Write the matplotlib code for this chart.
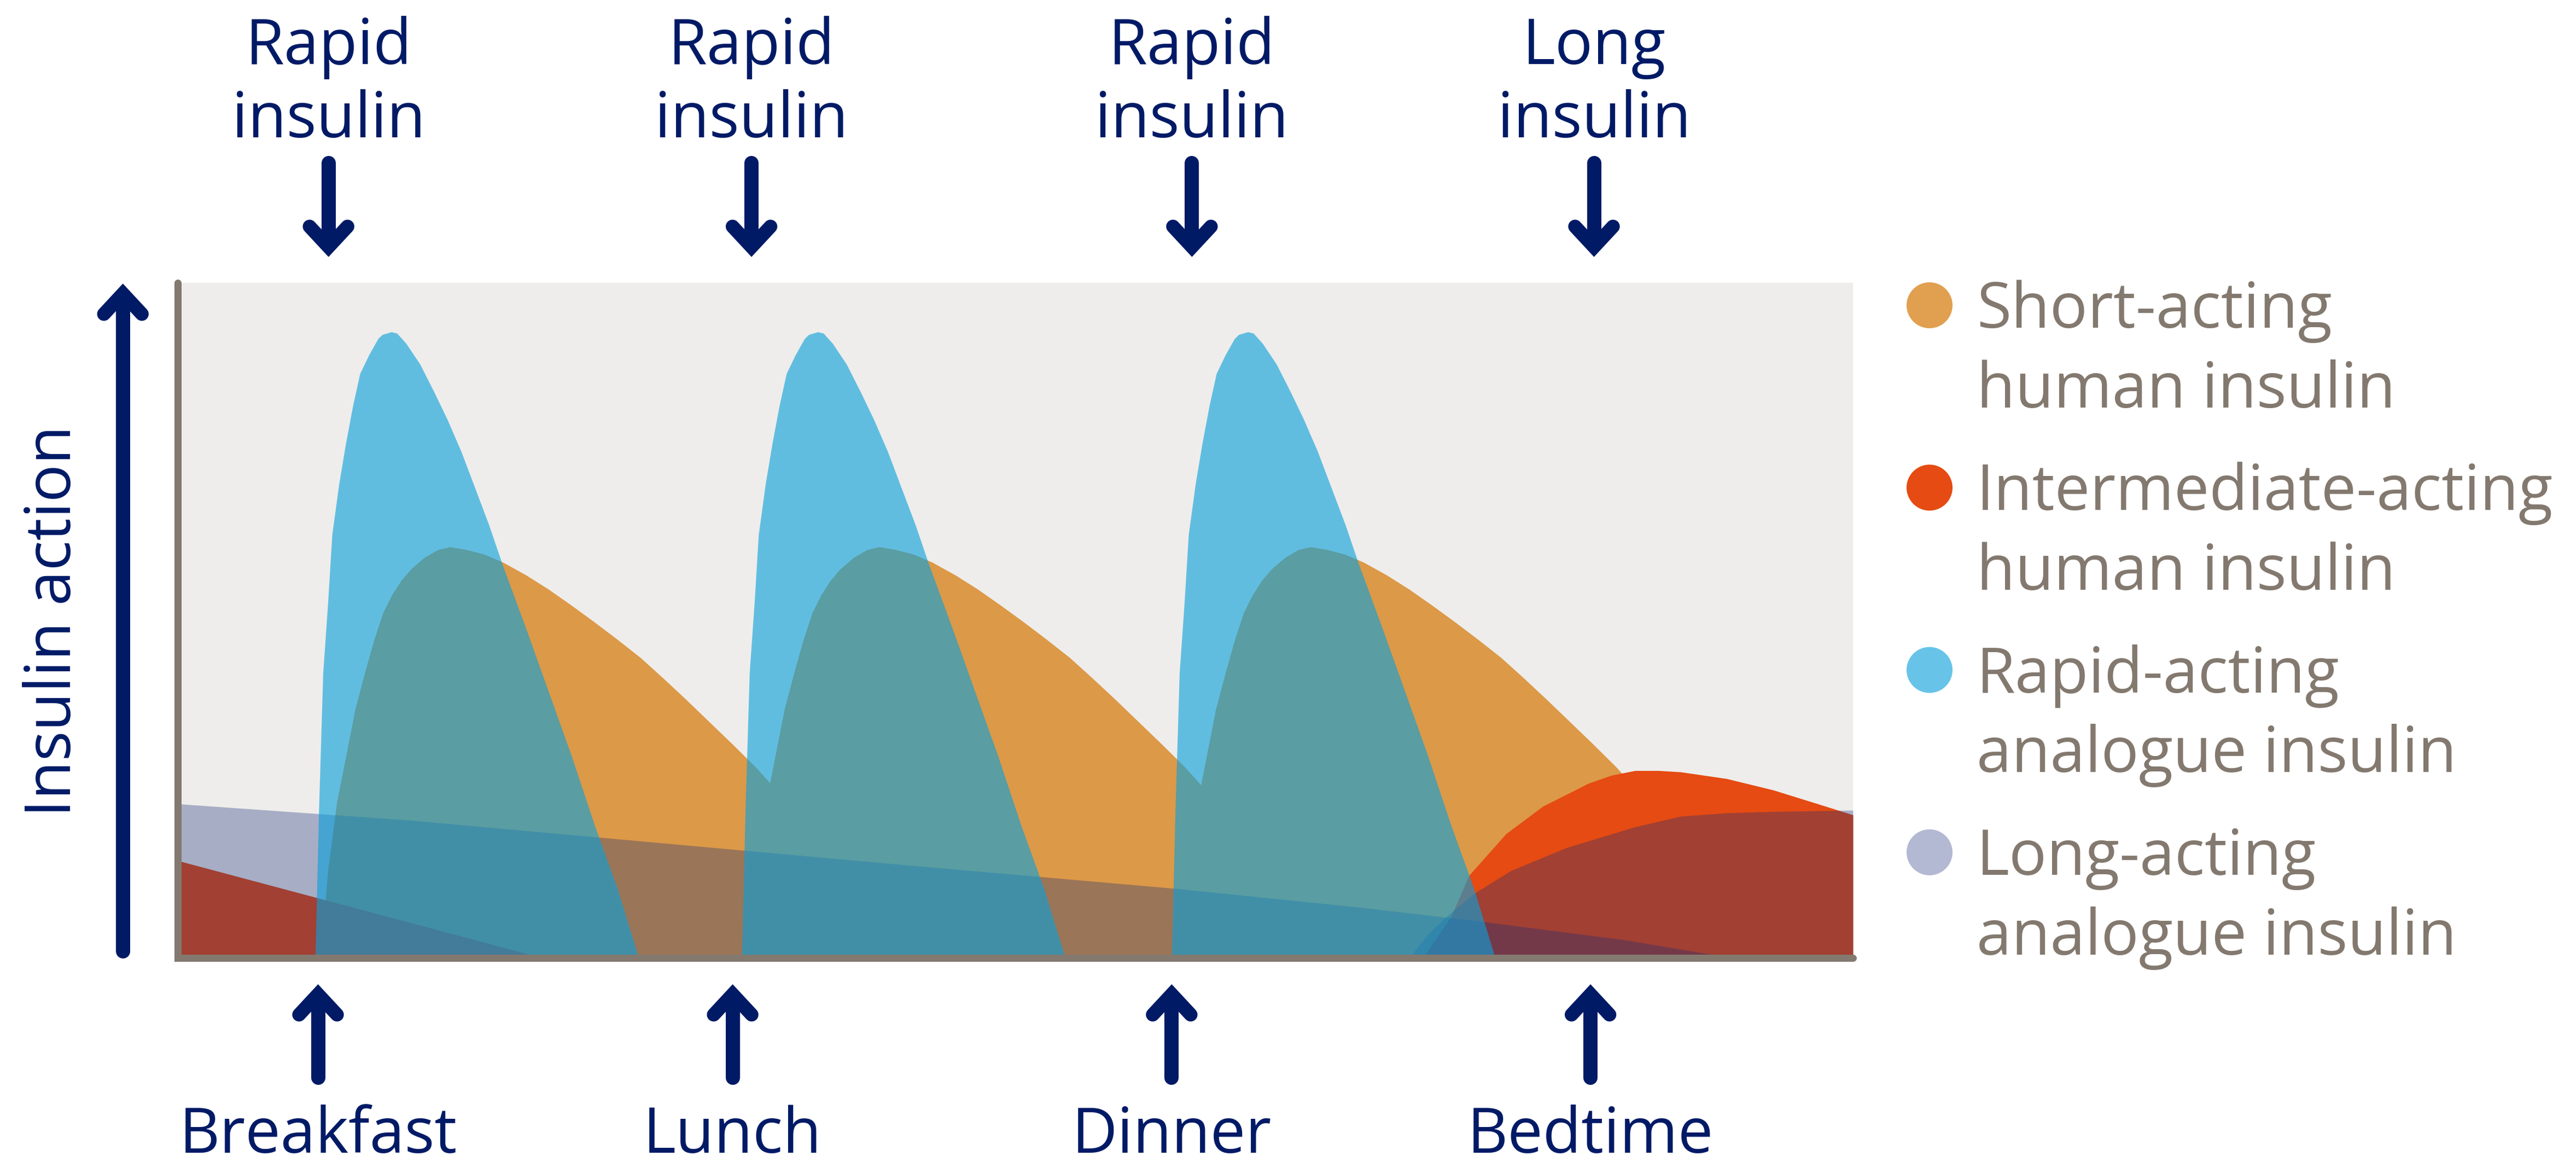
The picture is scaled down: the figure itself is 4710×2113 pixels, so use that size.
import numpy as np
import matplotlib
matplotlib.use("Agg")
import matplotlib.pyplot as plt
from matplotlib.patches import Circle

plt.rcParams['font.family'] = ['Open Sans', 'DejaVu Sans']

# ---------------------------------------------------------------------------
# Data: time along the day axis in hours, insulin action on a 0-100 scale
# ---------------------------------------------------------------------------
# Action profile of one dose, measured from the moment of injection
rapid_profile_t = [0.00, 0.05, 0.11, 0.18, 0.24, 0.34, 0.44, 0.54, 0.64, 0.77,
                   0.90, 0.96, 1.09, 1.17, 1.30, 1.50, 1.70, 1.89, 2.09, 2.29,
                   2.49, 2.68, 3.01, 3.34, 3.67, 4.00, 4.33, 4.62]
rapid_profile_v = [0.0, 21.4, 41.9, 52.3, 62.5, 70.1, 76.3, 81.8, 86.5, 89.3,
                   91.7, 92.3, 92.7, 92.5, 91.0, 87.9, 83.8, 79.7, 74.9, 69.4,
                   63.9, 58.1, 48.8, 39.2, 29.6, 19.3, 9.8, 0.0]
rapid_doses = [1.97, 8.08, 14.24]

short_profile_t = [0.00, 0.10, 0.23, 0.36, 0.49, 0.63, 0.76, 0.89, 1.02, 1.15,
                   1.29, 1.48, 1.68, 1.85, 2.08, 2.34, 2.61, 2.94, 3.26, 3.59,
                   3.92, 4.25, 4.58, 4.91, 5.24, 5.57, 5.90, 6.23, 6.56, 6.89,
                   7.22, 7.55, 7.88, 8.21, 8.50]
short_profile_v = [0.0, 12.5, 22.8, 29.6, 36.5, 42.0, 46.8, 50.9, 53.6, 55.7,
                   57.4, 59.1, 60.3, 60.7, 60.3, 59.6, 58.4, 56.5, 54.4, 52.0,
                   49.5, 46.9, 44.2, 41.1, 37.9, 34.6, 31.3, 27.9, 24.1, 20.4,
                   16.6, 12.1, 7.7, 2.9, 0.0]
short_doses = [2.05, 8.20, 14.38]

# Intermediate-acting: tail of the previous bedtime dose, then the new one
inter_prev_t = [0.00, 5.05]
inter_prev_v = [14.0, 0.0]
inter_bed_t = [17.87, 18.24, 18.50, 19.03, 19.56, 20.21, 20.54, 20.88, 21.21,
               21.53, 21.86, 22.19, 22.86, 23.51, 24.00]
inter_bed_v = [0.0, 5.6, 11.8, 18.0, 22.1, 25.5, 26.7, 27.4, 27.4,
               27.2, 26.7, 26.2, 24.5, 22.4, 20.8]

# Long-acting: previous dose wearing off, then the new bedtime dose
long_prev_t = [0.00, 3.34, 6.64, 10.38, 14.34, 16.98, 18.63, 20.73, 21.99]
long_prev_v = [22.45, 20.0, 16.9, 13.4, 9.8, 7.0, 5.0, 2.2, 0.0]
long_bed_t = [17.68, 17.90, 18.17, 18.57, 19.10, 19.89, 20.87, 21.53, 22.20,
              22.86, 24.00]
long_bed_v = [0.0, 2.9, 5.6, 9.1, 12.5, 15.9, 19.0, 20.6, 21.1, 21.3, 21.5]

meal_times = [2.01, 7.95, 14.24, 20.24]
meal_labels = ["Breakfast", "Lunch", "Dinner", "Bedtime"]
injection_times = [2.16, 8.22, 14.53, 20.29]
injection_labels = ["Rapid\ninsulin", "Rapid\ninsulin", "Rapid\ninsulin", "Long\ninsulin"]

legend_labels = ["Short-acting\nhuman insulin",
                 "Intermediate-acting\nhuman insulin",
                 "Rapid-acting\nanalogue insulin",
                 "Long-acting\nanalogue insulin"]
legend_colors = ["#E1A050", "#E54B12", "#67C4E8", "#B3B9D3"]

# ---------------------------------------------------------------------------
# Styling
# ---------------------------------------------------------------------------
W, H, DPI = 4710, 2113, 100
PT = 72.0 / DPI                # points per pixel
FS = 115 * PT                  # font size
NAVY = "#001A66"
GREY_TXT = "#83796F"
AXIS_COL = "#83796F"
BG = "#EEEDEB"
ORANGE = "#DC9948"
RED = "#E54B12"
LAVENDER = "#192C78"
BLUE = "#0AA0DA"

fig = plt.figure(figsize=(W / DPI, H / DPI), dpi=DPI)
fig.patch.set_facecolor("white")

# plot area
x0, x1, ytop, ybot = 325, 3388, 517, 1751
ax = fig.add_axes([x0 / W, 1 - ybot / H, (x1 - x0) / W, (ybot - ytop) / H])
ax.set_xlim(0, 24)
ax.set_ylim(-0.49, 100)
ax.set_facecolor(BG)
for s in ax.spines.values():
    s.set_visible(False)
ax.set_xticks([])
ax.set_yticks([])

for d in short_doses:
    ax.fill_between(d + np.asarray(short_profile_t), short_profile_v, 0,
                    color=ORANGE, lw=0, zorder=1)

ax.fill_between(inter_prev_t, inter_prev_v, 0, color=RED, lw=0, zorder=2)
ax.fill_between(inter_bed_t, inter_bed_v, 0, color=RED, lw=0, zorder=2)

ax.fill_between(long_prev_t, long_prev_v, 0, color=LAVENDER, alpha=0.33,
                lw=0, zorder=3)
ax.fill_between(long_bed_t, long_bed_v, 0, color=LAVENDER, alpha=0.33,
                lw=0, zorder=3)

for d in rapid_doses:
    ax.fill_between(d + np.asarray(rapid_profile_t), rapid_profile_v, 0,
                    color=BLUE, alpha=0.62, lw=0, zorder=4)

# axis lines
ax.plot([0, 0, 1], [1, 0, 0], transform=ax.transAxes, color=AXIS_COL,
        lw=13 * PT, solid_capstyle='round', solid_joinstyle='miter',
        clip_on=False, zorder=10)

# overlay in image pixel coordinates (y downward) for labels and arrows
ov = fig.add_axes([0, 0, 1, 1])
ov.set_xlim(0, W)
ov.set_ylim(H, 0)
ov.axis('off')


def to_px(t):
    return ax.transData.transform((t, 0))[0]


def arrow(x, tip, tail):
    d = 1 if tail > tip else -1
    ov.plot([x, x], [tip + d * 30, tail - d * 13], color=NAVY, lw=26 * PT,
            solid_capstyle='round')
    ov.plot([x - 34.7, x, x + 34.7],
            [tip + d * 56.7, tip + d * 19.4, tip + d * 56.7],
            color=NAVY, lw=25 * PT, solid_capstyle='round',
            solid_joinstyle='miter')


# injections above the chart
for t, lab in zip(injection_times, injection_labels):
    x = to_px(t)
    for k, line in enumerate(lab.split("\n")):
        ov.text(x, 116.7 + k * 134, line, ha='center', va='baseline',
                fontsize=FS, color=NAVY)
    arrow(x, 470.7, 285)

# meals below the chart
for t, lab in zip(meal_times, meal_labels):
    x = to_px(t)
    arrow(x, 1798, 1983)
    ov.text(x, 2107, lab, ha='center', va='baseline', fontsize=FS, color=NAVY)

# vertical axis arrow and title
arrow(224.7, 517.3, 1752)
ov.text(129, 1493, "Insulin action", rotation=90, rotation_mode='anchor',
        ha='left', va='baseline', fontsize=FS, color=NAVY)

# legend
for i, (lab, col) in enumerate(zip(legend_labels, legend_colors)):
    yb = 599 + i * 333.3
    ov.add_patch(Circle((3528, yb - 41), 42, color=col, lw=0))
    for k, line in enumerate(lab.split("\n")):
        ov.text(3614, yb + k * 145.7, line, ha='left', va='baseline',
                fontsize=FS, color=GREY_TXT)

fig.savefig("out.png", dpi=DPI, facecolor="white")
